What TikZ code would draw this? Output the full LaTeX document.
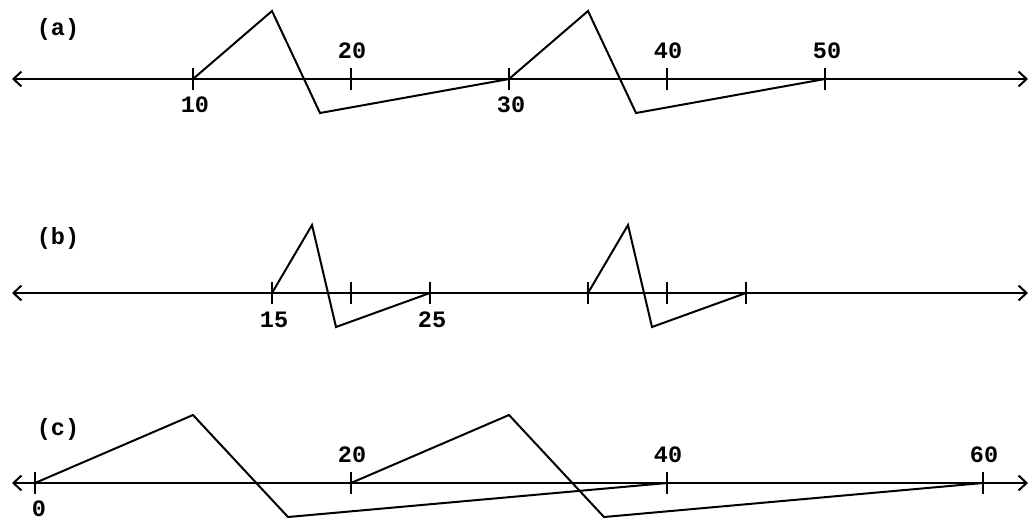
\documentclass[tikz,border=0pt]{standalone}
\usepackage{fontspec}
\newfontfamily\lblfont{Liberation Mono}
\usetikzlibrary{arrows.meta}
\tikzset{
  axisline/.style={line width=2pt,
    {Straight Barb[length=8pt,width=15pt,line width=2pt]}-{Straight Barb[length=8pt,width=15pt,line width=2pt]}},
  tickmark/.style={line width=2pt},
  zig/.style={line width=2pt, line join=miter},
  lbl/.style={font=\lblfont\bfseries\fontsize{23.5}{28}\selectfont, inner sep=0pt},
}
\begin{document}
\begin{tikzpicture}[x=1pt,y=-1pt]
\useasboundingbox (0,0) rectangle (1031,520);
% ---------- (a)
\node[lbl] (la) at (58,29) {(a)};
\coordinate (aL) at (12,79);
\coordinate (aR) at (1028,79);
\draw[axisline] (aL) -- (aR);
\foreach \n/\x in {10/193,20/351,30/509,40/667,50/825}{
  \coordinate (a\n) at (\x,79);
  \draw[tickmark] ([yshift=-11pt]a\n) -- ([yshift=11pt]a\n);
}
\node[lbl] (ta10) at (195,105) {10};
\node[lbl] (ta20) at (352,51) {20};
\node[lbl] (ta30) at (511,105) {30};
\node[lbl] (ta40) at (668,51) {40};
\node[lbl] (ta50) at (827,51) {50};
\coordinate (ap1) at (272,11);
\coordinate (ab1) at (320,113);
\coordinate (ap2) at (588,11);
\coordinate (ab2) at (636,113);
\draw[zig] (a10) -- (ap1) -- (ab1) -- (a30);
\draw[zig] (a30) -- (ap2) -- (ab2) -- (a50);
% ---------- (b)
\node[lbl] (lb) at (58,238) {(b)};
\coordinate (bL) at (12,293);
\coordinate (bR) at (1028,293);
\draw[axisline] (bL) -- (bR);
\foreach \n/\x in {15/272,20/351,25/430,35/588,40/667,45/746}{
  \coordinate (b\n) at (\x,293);
  \draw[tickmark] ([yshift=-11pt]b\n) -- ([yshift=11pt]b\n);
}
\node[lbl] (tb15) at (274,320) {15};
\node[lbl] (tb25) at (432,320) {25};
\coordinate (bp1) at (312,225);
\coordinate (bb1) at (336,327);
\coordinate (bp2) at (628,225);
\coordinate (bb2) at (652,327);
\draw[zig] (b15) -- (bp1) -- (bb1) -- (b25);
\draw[zig] (b35) -- (bp2) -- (bb2) -- (b45);
% ---------- (c)
\node[lbl] (lc) at (58,429) {(c)};
\coordinate (cL) at (12,483);
\coordinate (cR) at (1028,483);
\draw[axisline] (cL) -- (cR);
\foreach \n/\x in {0/35,20/351,40/667,60/983}{
  \coordinate (c\n) at (\x,483);
  \draw[tickmark] ([yshift=-11pt]c\n) -- ([yshift=11pt]c\n);
}
\node[lbl] (tc0) at (39,509) {0};
\node[lbl] (tc20) at (352,455) {20};
\node[lbl] (tc40) at (668,455) {40};
\node[lbl] (tc60) at (984,455) {60};
\coordinate (cp1) at (193,415);
\coordinate (cb1) at (288,517);
\coordinate (cp2) at (509,415);
\coordinate (cb2) at (604,517);
\draw[zig] (c0) -- (cp1) -- (cb1) -- (c40);
\draw[zig] (c20) -- (cp2) -- (cb2) -- (c60);
\end{tikzpicture}
\end{document}
